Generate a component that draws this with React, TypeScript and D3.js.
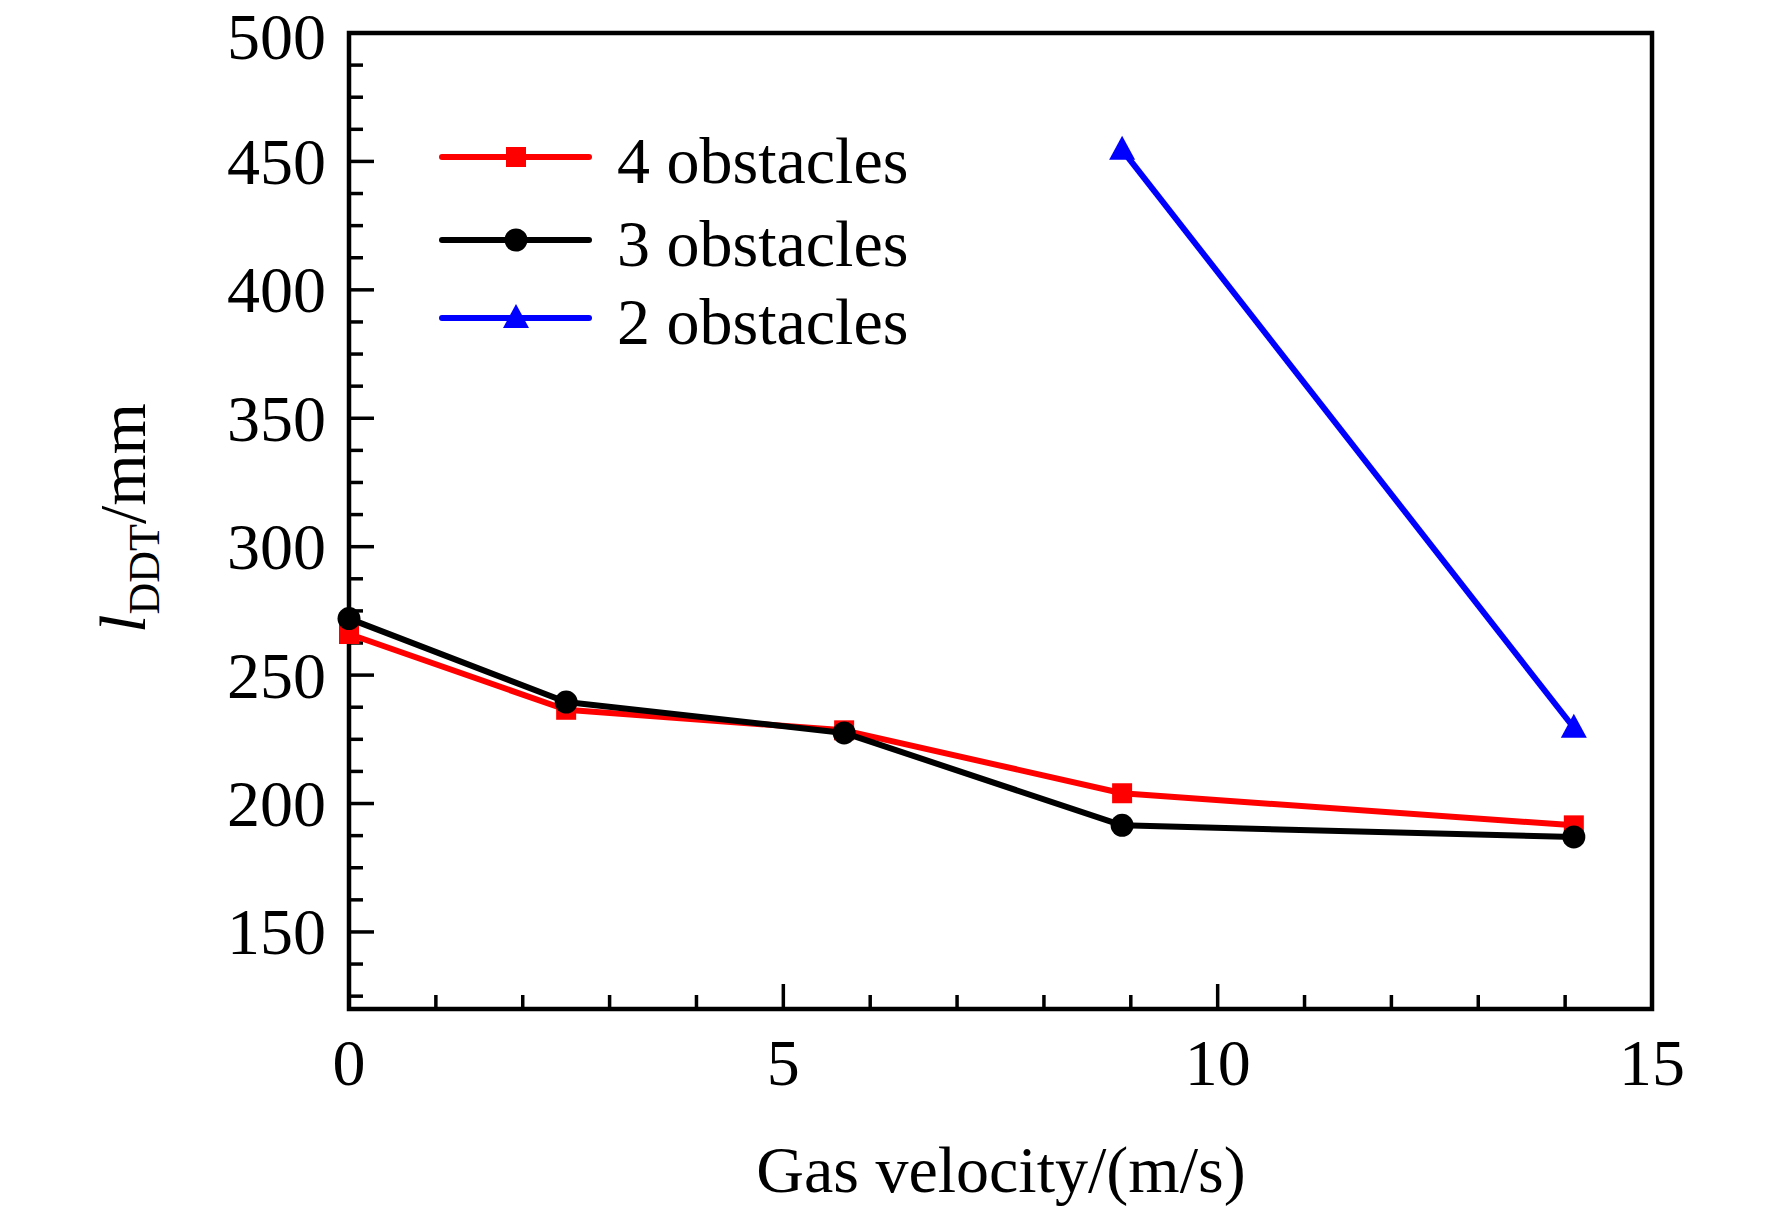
import React, { useEffect, useRef } from 'react';
import * as d3 from 'd3';

const velocity = [0, 2.5, 5.7, 8.9, 14.1];
const obstacles4 = [266, 236.5, 228.5, 204, 191.5];
const obstacles3 = [272, 239.5, 227.5, 191.5, 187];
const velocity2 = [8.9, 14.1];
const obstacles2 = [454.5, 229.5];

const xTicks = [0, 5, 10, 15];
const yTicks = [150, 200, 250, 300, 350, 400, 450, 500];

const series = [
  { name: '4 obstacles', xs: velocity, ys: obstacles4, color: '#ff0000', marker: 'square' },
  { name: '3 obstacles', xs: velocity, ys: obstacles3, color: '#000000', marker: 'circle' },
  { name: '2 obstacles', xs: velocity2, ys: obstacles2, color: '#0000ff', marker: 'triangle' },
];

const W = 1772;
const H = 1207;
const FONT = '"Liberation Serif", "Times New Roman", serif';

const App: React.FC = () => {
  const svgRef = useRef<SVGSVGElement>(null);

  useEffect(() => {
    if (!svgRef.current) return;
    const svg = d3.select(svgRef.current);
    svg.selectAll('*').remove();

    const left = 349, right = 1652, top = 33, bottom = 1009;

    const x = d3.scaleLinear().domain([0, 15]).range([left, right]);
    const y = d3.scaleLinear().domain([120, 500]).range([bottom, top]);

    // minor + major ticks, drawn inside the frame
    const g = svg.append('g').attr('stroke', '#000');
    d3.range(0, 15.01, 1).forEach(v => {
      const major = v % 5 === 0;
      g.append('line')
        .attr('x1', x(v)).attr('x2', x(v))
        .attr('y1', bottom).attr('y2', bottom - (major ? 25 : 14))
        .attr('stroke-width', 3.5);
    });
    d3.range(125, 500.01, 12.5).forEach(v => {
      const major = v % 50 === 0;
      g.append('line')
        .attr('x1', left).attr('x2', left + (major ? 25 : 14))
        .attr('y1', y(v)).attr('y2', y(v))
        .attr('stroke-width', 3.5);
    });

    // frame
    svg.append('rect')
      .attr('x', left).attr('y', top)
      .attr('width', right - left).attr('height', bottom - top)
      .attr('fill', 'none').attr('stroke', '#000').attr('stroke-width', 4.5);

    // tick labels
    svg.append('g').selectAll('text').data(xTicks).join('text')
      .attr('x', d => x(d)).attr('y', 1085)
      .attr('text-anchor', 'middle')
      .attr('font-family', FONT).attr('font-size', 66)
      .text(d => d);

    svg.append('g').selectAll('text').data(yTicks).join('text')
      .attr('x', 326).attr('y', d => y(d))
      .attr('dy', d => (d === 500 ? '0.4em' : '0.34em'))
      .attr('text-anchor', 'end')
      .attr('font-family', FONT).attr('font-size', 66)
      .text(d => d);

    // axis titles
    svg.append('text')
      .attr('x', 1001).attr('y', 1192)
      .attr('text-anchor', 'middle')
      .attr('font-family', FONT).attr('font-size', 66)
      .text('Gas velocity/(m/s)');

    const yt = svg.append('text')
      .attr('transform', 'translate(145,518) rotate(-90)')
      .attr('text-anchor', 'middle')
      .attr('font-family', FONT).attr('font-size', 66);
    yt.append('tspan').attr('font-style', 'italic').text('l');
    yt.append('tspan').attr('font-size', 44).attr('dy', 14).text('DDT');
    yt.append('tspan').attr('dy', -14).text('/mm');

    const drawMarker = (sel: any, kind: string, cx: number, cy: number, color: string) => {
      if (kind === 'square') {
        sel.append('rect').attr('x', cx - 10).attr('y', cy - 10)
          .attr('width', 20).attr('height', 20).attr('fill', color);
      } else if (kind === 'circle') {
        sel.append('circle').attr('cx', cx).attr('cy', cy).attr('r', 11.5).attr('fill', color);
      } else {
        sel.append('path')
          .attr('d', `M${cx},${cy - 14} L${cx + 13},${cy + 10} L${cx - 13},${cy + 10} Z`)
          .attr('fill', color);
      }
    };

    const line = d3.line<[number, number]>()
      .x(d => x(d[0]))
      .y(d => y(d[1]));

    series.forEach(s => {
      const pts = s.xs.map((v, i) => [v, s.ys[i]] as [number, number]);
      const sg = svg.append('g');
      sg.append('path')
        .attr('d', line(pts))
        .attr('fill', 'none')
        .attr('stroke', s.color)
        .attr('stroke-width', 6)
        .attr('stroke-linejoin', 'round');
      pts.forEach(p => drawMarker(sg, s.marker, x(p[0]), y(p[1]), s.color));
    });

    // legend
    const legendY = [157, 240, 318];
    series.forEach((s, i) => {
      const lg = svg.append('g');
      lg.append('line')
        .attr('x1', 442).attr('x2', 589)
        .attr('y1', legendY[i]).attr('y2', legendY[i])
        .attr('stroke', s.color).attr('stroke-width', 6)
        .attr('stroke-linecap', 'round');
      drawMarker(lg, s.marker, 516, legendY[i], s.color);
      lg.append('text')
        .attr('x', 617).attr('y', legendY[i])
        .attr('dy', '0.4em')
        .attr('font-family', FONT).attr('font-size', 66)
        .text(s.name);
    });
  }, []);

  return (
    <svg
      ref={svgRef}
      width={W}
      height={H}
      style={{ position: 'absolute', left: 0, top: 0, background: '#fff' }}
    />
  );
};

export default App;
